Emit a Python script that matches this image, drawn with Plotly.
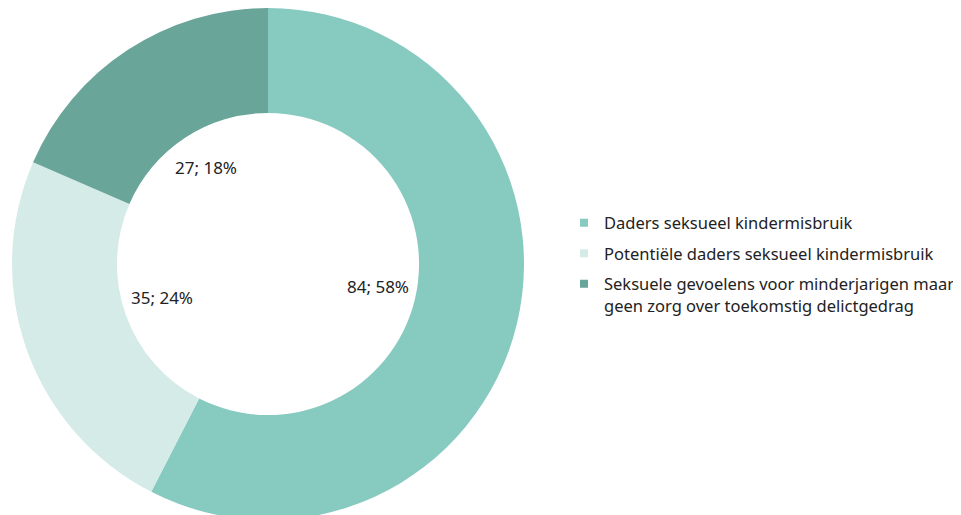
import math
import plotly.graph_objects as go

labels = ["Daders seksueel kindermisbruik",
          "Potentiële daders seksueel kindermisbruik",
          "Seksuele gevoelens voor minderjarigen maar<br>geen zorg over toekomstig delictgedrag"]
values = [84, 35, 27]
colors = ["#86CAC0", "#D5EBE7", "#6AA59A"]

W, H = 961, 520
mt, mb = 0, 8
R = (H - mt - mb) / 2
cx = 260
dom_x = [(cx - R) / W, (cx + R) / W]

fig = go.Figure()
fig.add_trace(go.Pie(
    labels=labels, values=values, hole=0.59, sort=False,
    direction="clockwise", rotation=0,
    marker=dict(colors=colors, line=dict(width=0)),
    textinfo="none", hoverinfo="label+value+percent",
    domain=dict(x=dom_x, y=[0, 1]),
    showlegend=False,
))

# legend entries (one per slice) with square swatches
for i, (lab, col) in enumerate(zip(labels, colors)):
    fig.add_trace(go.Scatter(
        x=[None], y=[None], mode="markers", name=lab,
        marker=dict(symbol="square", size=8, color=col),
        legendgroup=f"g{i}", showlegend=True, hoverinfo="skip",
    ))

# labels inside the hole, positioned from the data angles
total = sum(values)
cum = 0
cy_px = mt + R
lab_r = 113
for v in values:
    mid = (cum + v / 2) / total * 2 * math.pi
    cum += v
    px = cx + lab_r * math.sin(mid)
    py = cy_px - lab_r * math.cos(mid)
    pct = round(v / total * 100)
    fig.add_annotation(x=px / W, y=1 - py / H, xref="paper", yref="paper",
                       text=f"{v}; {pct}%", showarrow=False,
                       font=dict(size=17, color="#222222"),
                       xanchor="center", yanchor="middle")

fig.update_layout(
    width=W, height=H,
    margin=dict(l=0, r=0, t=mt, b=mb),
    paper_bgcolor="white", plot_bgcolor="white",
    font=dict(family="Noto Sans", size=16.5, color="#222222"),
    xaxis=dict(visible=False), yaxis=dict(visible=False),
    showlegend=True,
    legend=dict(x=556 / W, y=1 - 260 / H, xanchor="left", yanchor="middle",
                font=dict(size=16.5, color="#222222"), itemwidth=30,
                tracegroupgap=6, traceorder="grouped", valign="top",
                bgcolor="rgba(0,0,0,0)"),
)
fig.write_html("out.html")
